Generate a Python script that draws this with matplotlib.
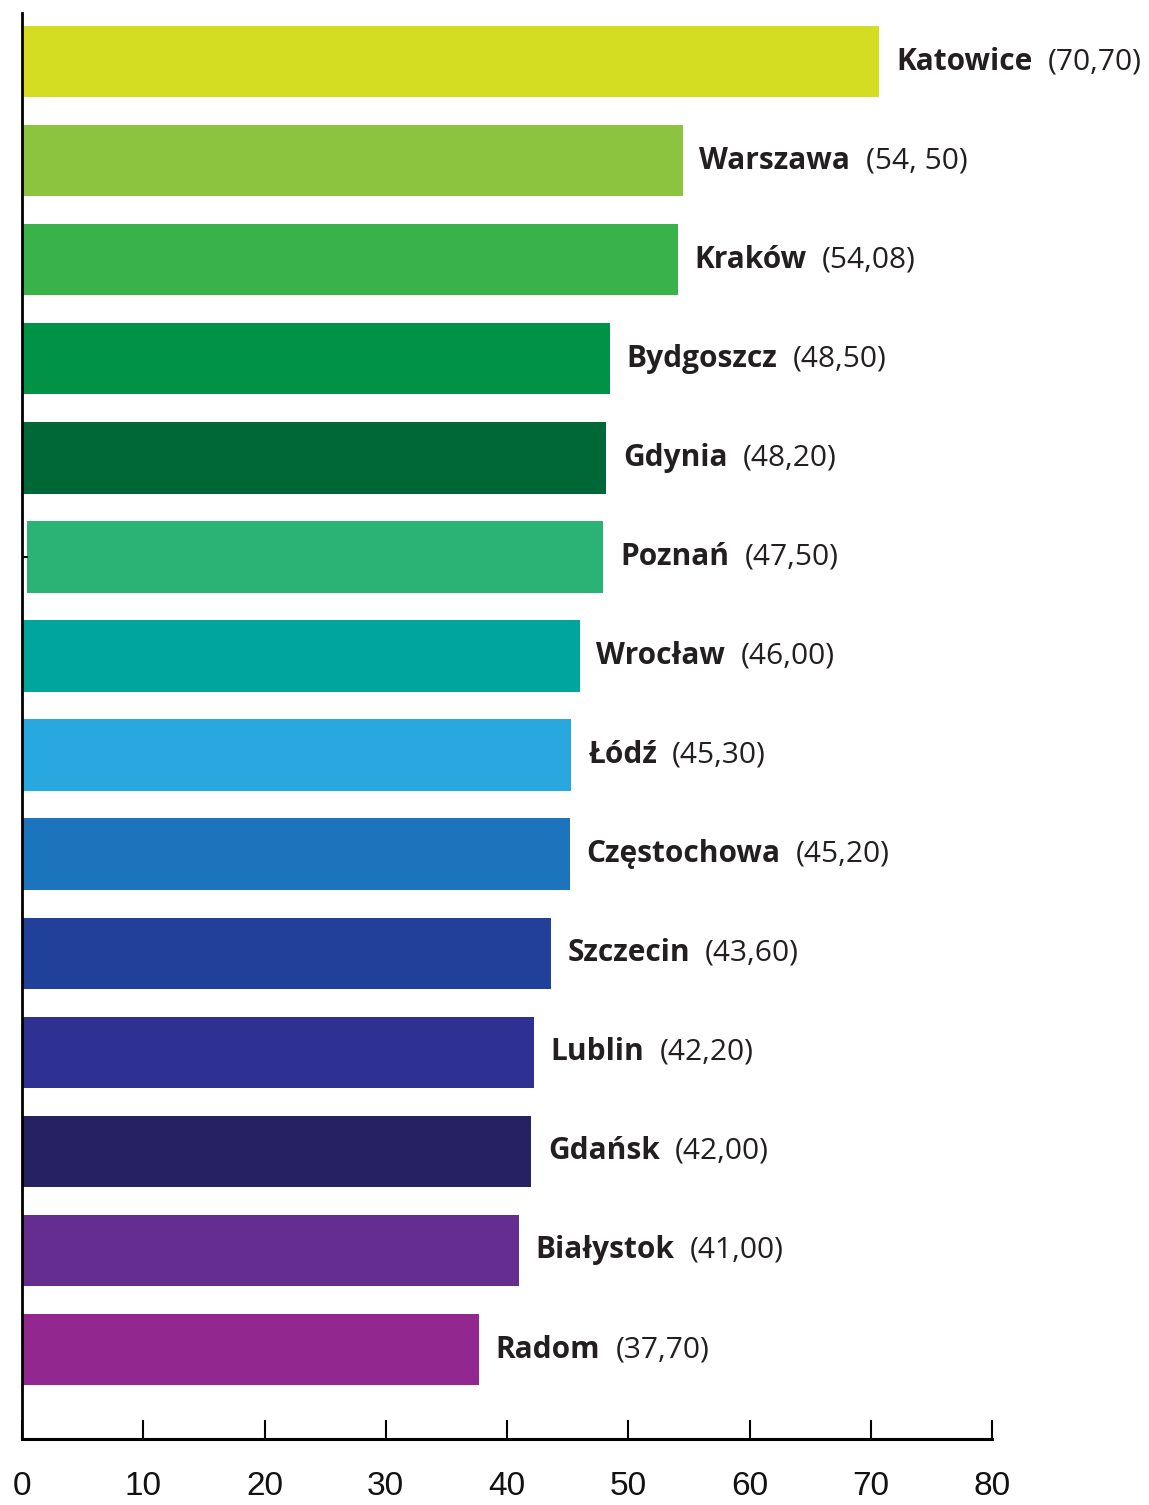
import matplotlib.pyplot as plt
from matplotlib import font_manager

cities = ['Katowice', 'Warszawa', 'Kraków', 'Bydgoszcz', 'Gdynia', 'Poznań', 'Wrocław',
          'Łódź', 'Częstochowa', 'Szczecin', 'Lublin', 'Gdańsk', 'Białystok', 'Radom']
values = [70.70, 54.50, 54.08, 48.50, 48.20, 47.50, 46.00,
          45.30, 45.20, 43.60, 42.20, 42.00, 41.00, 37.70]
value_labels = ['(70,70)', '(54, 50)', '(54,08)', '(48,50)', '(48,20)', '(47,50)', '(46,00)',
                '(45,30)', '(45,20)', '(43,60)', '(42,20)', '(42,00)', '(41,00)', '(37,70)']
colors = ['#d4dd22', '#8cc43f', '#39b24a', '#009245', '#006837', '#2bb275', '#00a59d',
          '#29a8e0', '#1c75bc', '#21409a', '#2e3192', '#262262', '#662d91', '#92278f']
# the Poznań bar is drawn slightly detached from the axis
lefts = [0, 0, 0, 0, 0, 0.45, 0, 0, 0, 0, 0, 0, 0, 0]
xticks = [0, 10, 20, 30, 40, 50, 60, 70, 80]

label_font = 'Open Sans'
names = {f.name for f in font_manager.fontManager.ttflist}
tick_font = 'Liberation Sans Narrow' if 'Liberation Sans Narrow' in names else 'Liberation Sans'

fig = plt.figure(figsize=(11.49, 15.05), dpi=100)
ax = fig.add_axes([22 / 1149, 66 / 1505, 970 / 1149, 1426 / 1505])

ypos = list(range(len(cities)))
ax.barh(ypos, values, left=lefts, height=0.72, color=colors)

ax.set_xlim(0, 80)
ax.set_ylim(len(cities) - 1 + 0.903, -0.49)

for s in ['top', 'right']:
    ax.spines[s].set_visible(False)
ax.spines['left'].set_linewidth(2)
ax.spines['bottom'].set_linewidth(2.2)

ax.set_xticks(xticks)
ax.set_xticklabels([str(t) for t in xticks], fontfamily=tick_font, fontsize=24, color='#111111')
ax.tick_params(axis='x', direction='in', length=14, width=1.5, pad=23)
ax.set_yticks([5])
ax.set_yticklabels([])
ax.tick_params(axis='y', direction='in', length=4, width=1.5)

fig.canvas.draw()
renderer = fig.canvas.get_renderer()
for y, v, l, name, vl in zip(ypos, values, lefts, cities, value_labels):
    t = ax.annotate(name, xy=(v + l, y), xytext=(12, 0), textcoords='offset points',
                    ha='left', va='center', fontsize=21.5, fontweight='bold',
                    fontfamily=label_font, color='#231f20')
    bb = t.get_window_extent(renderer)
    x_data = ax.transData.inverted().transform((bb.x1, 0))[0]
    ax.annotate(vl, xy=(x_data, y), xytext=(11, 0), textcoords='offset points',
                ha='left', va='center', fontsize=21.5, fontfamily=label_font,
                color='#231f20', annotation_clip=False)

fig.savefig('out.png', dpi=100)
